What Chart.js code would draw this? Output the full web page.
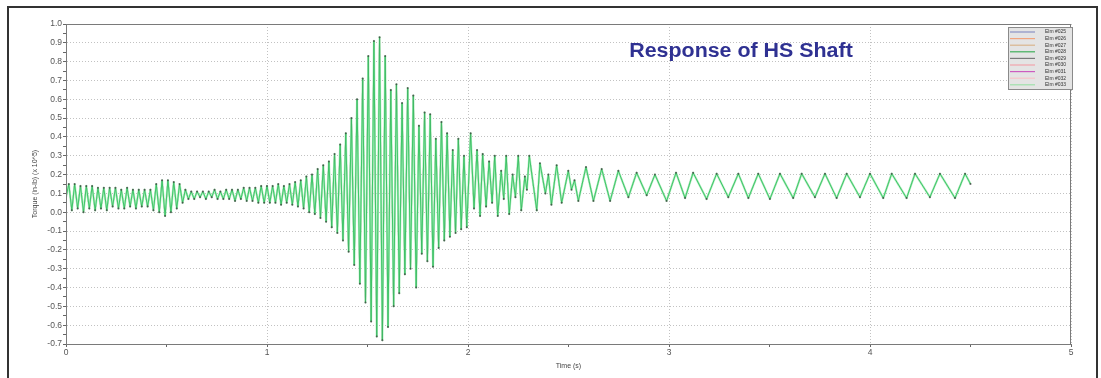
<!DOCTYPE html>
<html>
<head>
<meta charset="utf-8">
<script src="https://cdn.jsdelivr.net/npm/chart.js@4/dist/chart.umd.min.js"></script>
<style>
  html, body { margin: 0; padding: 0; background: #fff; overflow: hidden; }
  #wrap { position: relative; width: 1101px; height: 378px; }
  #myChart { position: absolute; left: 0; top: 0; }
  #frame { position: absolute; left: 7px; top: 6px; width: 1087px; height: 400px; border: 2px solid #333; pointer-events: none; }
</style>
</head>
<body>
<div id="wrap">
  <canvas id="myChart" width="1101" height="378"></canvas>
  <div id="frame"></div>
</div>
<script>
// element names shown in the legend
const elements = ["Elm #025", "Elm #026", "Elm #027", "Elm #028", "Elm #029", "Elm #030", "Elm #031", "Elm #032", "Elm #033"];
const elementColors = ["#8a92c4", "#f0a47e", "#d9b48c", "#3fae5a", "#7a7a7a", "#f2a3ab", "#cc5cc0", "#f7c3c9", "#9fe0aa"];

// time of each peak / trough (s)
const timeS = [
  // start-up ripple
  0, 0.014, 0.029, 0.043, 0.058, 0.072, 0.087, 0.101, 0.116, 0.130, 0.145, 0.159, 0.174, 0.188, 0.203,
  0.217, 0.232, 0.246, 0.261, 0.275, 0.290, 0.304, 0.319, 0.333, 0.348, 0.362, 0.377, 0.391, 0.406, 0.420,
  0.435, 0.449, 0.464, 0.478, 0.493, 0.507, 0.522, 0.536, 0.551, 0.565,
  0.580, 0.594, 0.609, 0.623, 0.638, 0.652, 0.667, 0.681, 0.696, 0.710, 0.725, 0.739, 0.754, 0.768, 0.783,
  0.797, 0.812, 0.826, 0.841, 0.855, 0.870, 0.884, 0.899, 0.913, 0.928, 0.942, 0.957, 0.971, 0.986, 1.000,
  // resonance build-up and decay
  1.014, 1.028, 1.042, 1.056, 1.070, 1.084, 1.098, 1.112, 1.126, 1.140, 1.154, 1.168, 1.182, 1.196, 1.210,
  1.224, 1.238, 1.252, 1.266, 1.280, 1.294, 1.308, 1.322, 1.336, 1.350, 1.364, 1.378, 1.392, 1.406, 1.420,
  1.434, 1.448, 1.462, 1.476, 1.490, 1.504, 1.518, 1.532, 1.546, 1.560, 1.574, 1.588, 1.602, 1.616, 1.630,
  1.644, 1.658, 1.672, 1.686, 1.700, 1.714, 1.728, 1.742, 1.756, 1.770, 1.784, 1.798, 1.812, 1.826, 1.840,
  1.854, 1.868, 1.882, 1.896, 1.910, 1.924, 1.938, 1.952, 1.966, 1.980, 1.994,
  2.013, 2.030, 2.045, 2.060, 2.073, 2.090, 2.105, 2.120, 2.133, 2.148, 2.165, 2.178, 2.190, 2.205, 2.222,
  2.236, 2.250, 2.265, 2.283, 2.293, 2.305, 2.342, 2.358, 2.385, 2.400, 2.415, 2.441, 2.466, 2.499, 2.515,
  2.530, 2.549, 2.587, 2.624, 2.665, 2.707, 2.748, 2.798, 2.839, 2.889, 2.930, 2.988,
  // steady oscillation
  3.035, 3.080, 3.120, 3.187, 3.237, 3.295, 3.345, 3.395, 3.444, 3.502, 3.552, 3.618, 3.660, 3.726, 3.776,
  3.834, 3.884, 3.950, 4.000, 4.066, 4.108, 4.182, 4.224, 4.298, 4.348, 4.423, 4.473, 4.500
];

// torque (in-lb x 10^5) at those times
const torque = [
  0.08, 0.15, 0.01, 0.15, 0.02, 0.14, 0.00, 0.14, 0.02, 0.14, 0.01, 0.13, 0.02, 0.13, 0.01,
  0.13, 0.03, 0.13, 0.02, 0.12, 0.02, 0.13, 0.03, 0.12, 0.02, 0.12, 0.03, 0.12, 0.03, 0.12,
  0.01, 0.15, 0.00, 0.17, -0.02, 0.17, 0.00, 0.16, 0.02, 0.15,
  0.05, 0.12, 0.07, 0.11, 0.07, 0.11, 0.08, 0.11, 0.07, 0.11, 0.08, 0.12, 0.07, 0.11, 0.07,
  0.12, 0.07, 0.12, 0.06, 0.12, 0.07, 0.13, 0.06, 0.13, 0.06, 0.13, 0.05, 0.14, 0.05, 0.14,
  0.05, 0.14, 0.05, 0.15, 0.04, 0.14, 0.05, 0.15, 0.04, 0.16, 0.03, 0.17, 0.02, 0.19, 0.00,
  0.20, -0.01, 0.23, -0.03, 0.25, -0.05, 0.27, -0.08, 0.31, -0.11, 0.36, -0.15, 0.42, -0.21, 0.50,
  -0.28, 0.60, -0.38, 0.71, -0.48, 0.83, -0.58, 0.91, -0.66, 0.93, -0.68, 0.83, -0.61, 0.65, -0.50,
  0.68, -0.43, 0.58, -0.33, 0.66, -0.30, 0.62, -0.40, 0.46, -0.22, 0.53, -0.26, 0.52, -0.29, 0.39,
  -0.19, 0.48, -0.15, 0.42, -0.13, 0.33, -0.11, 0.39, -0.09, 0.30, -0.08,
  0.42, 0.02, 0.33, -0.02, 0.31, 0.03, 0.27, 0.05, 0.30, -0.02, 0.22, 0.07, 0.30, -0.01, 0.20,
  0.08, 0.30, 0.01, 0.19, 0.12, 0.30, 0.01, 0.26, 0.10, 0.20, 0.04, 0.25, 0.05, 0.22, 0.12,
  0.17, 0.06, 0.24, 0.06, 0.23, 0.06, 0.22, 0.08, 0.21, 0.09, 0.20, 0.06,
  0.21, 0.075, 0.21, 0.07, 0.205, 0.08, 0.205, 0.075, 0.205, 0.07, 0.205, 0.075, 0.205, 0.08, 0.205,
  0.075, 0.205, 0.08, 0.205, 0.075, 0.205, 0.075, 0.205, 0.08, 0.205, 0.075, 0.205, 0.15
];

const punti = timeS.map((t, i) => ({ x: t, y: torque[i] }));

const isMajor = (v) => Math.abs(v * 10 - Math.round(v * 10)) < 1e-6;

// all elements give practically the same curve: pale green halo, bright green line, grey dots at the turning points
const datasets = elements.map((name, i) => {
  const ds = {
    label: name,
    data: punti,
    borderColor: elementColors[i],
    borderWidth: 1,
    borderJoinStyle: "round",
    pointRadius: 0,
    order: 4,
  };
  if (name === "Elm #033") {
    ds.borderColor = "#b8f0c6";
    ds.borderWidth = 2.2;
    ds.order = 3;
  }
  if (name === "Elm #028") {
    ds.borderColor = "#3ee070";
    ds.borderWidth = 1;
    ds.order = 1;
  }
  if (name === "Elm #029") {
    ds.borderColor = "rgba(70,80,70,0.3)";
    ds.borderWidth = 0.6;
    ds.pointRadius = 1;
    ds.pointBorderWidth = 0;
    ds.pointBackgroundColor = "rgba(60,60,60,0.75)";
    ds.order = 0;
  }
  return ds;
});

// plot frame, title and the little legend box inside the plot
const extras = {
  id: "extras",
  afterDraw(chart) {
    const { ctx, chartArea: a } = chart;
    ctx.save();
    ctx.strokeStyle = "#7a7a7a";
    ctx.lineWidth = 1;
    ctx.strokeRect(a.left + 0.5, a.top + 0.5, a.right - a.left - 1, a.bottom - a.top);

    ctx.save();
    ctx.translate(741, 57);
    ctx.scale(1.07, 1);
    ctx.fillStyle = "#2f3192";
    ctx.font = "bold 20px 'Liberation Sans', Arial, sans-serif";
    ctx.textAlign = "center";
    ctx.textBaseline = "alphabetic";
    ctx.fillText("Response of HS Shaft", 0, 0);
    ctx.restore();

    const lx = 1008, ly = 27, lw = 64, lh = 62;
    ctx.fillStyle = "#e4e4e4";
    ctx.fillRect(lx, ly, lw, lh);
    ctx.strokeStyle = "#8a8a8a";
    ctx.strokeRect(lx + 0.5, ly + 0.5, lw, lh);
    ctx.font = "5px 'Liberation Sans', Arial, sans-serif";
    ctx.textAlign = "left";
    ctx.textBaseline = "middle";
    chart.data.datasets.forEach((ds, i) => {
      const y = ly + 5 + i * 6.6;
      ctx.strokeStyle = elementColors[i];
      ctx.lineWidth = 1.2;
      ctx.beginPath();
      ctx.moveTo(lx + 2, y);
      ctx.lineTo(lx + 27, y);
      ctx.stroke();
      ctx.fillStyle = "#333";
      ctx.fillText(ds.label, lx + 37, y);
    });
    ctx.restore();
  },
};

const tickFont = { family: "'Liberation Sans', Arial", size: 8.5 };

const config = {
  type: "line",
  data: { datasets: datasets },
  options: {
    responsive: false,
    animation: false,
    devicePixelRatio: 1,
    parsing: false,
    layout: { padding: { left: 0, top: 24, right: 30, bottom: 0 } },
    elements: { line: { tension: 0 } },
    plugins: { legend: { display: false }, tooltip: { enabled: false }, title: { display: false } },
    scales: {
      x: {
        type: "linear",
        min: 0,
        max: 5,
        afterFit: (s) => { s.height = 34; },
        ticks: {
          stepSize: 0.5,
          autoSkip: false,
          maxRotation: 0,
          padding: 1,
          color: "#555",
          font: tickFont,
          callback: (v) => (Number.isInteger(v) ? String(v) : ""),
        },
        grid: {
          color: (c) => (c.tick && Number.isInteger(c.tick.value) ? "#c2c2c2" : "rgba(0,0,0,0)"),
          tickColor: "#666",
          tickLength: 3,
        },
        border: { color: "#777", dash: [1, 2] },
        title: {
          display: true,
          text: "Time (s)",
          color: "#444",
          font: { family: "'Liberation Sans', Arial", size: 7 },
          padding: { top: 0, bottom: 8 },
        },
      },
      y: {
        min: -0.7,
        max: 1.0,
        afterFit: (s) => { s.width = 66; },
        ticks: {
          stepSize: 0.05,
          maxTicksLimit: 100,
          autoSkip: false,
          padding: 1,
          color: "#555",
          font: tickFont,
          callback: (v) => (isMajor(v) ? v.toFixed(1) : ""),
        },
        grid: {
          color: (c) => (c.tick && isMajor(c.tick.value) ? "#c2c2c2" : "rgba(0,0,0,0)"),
          tickColor: "#666",
          tickLength: 3,
        },
        border: { color: "#777", dash: [1, 2] },
        title: {
          display: true,
          text: "Torque (in-lb) (x 10^5)",
          color: "#444",
          font: { family: "'Liberation Sans', Arial", size: 7 },
          padding: { top: 31, bottom: 0 },
        },
      },
    },
  },
  plugins: [extras],
};

const myChart = new Chart(document.getElementById("myChart"), config);
</script>
</body>
</html>
